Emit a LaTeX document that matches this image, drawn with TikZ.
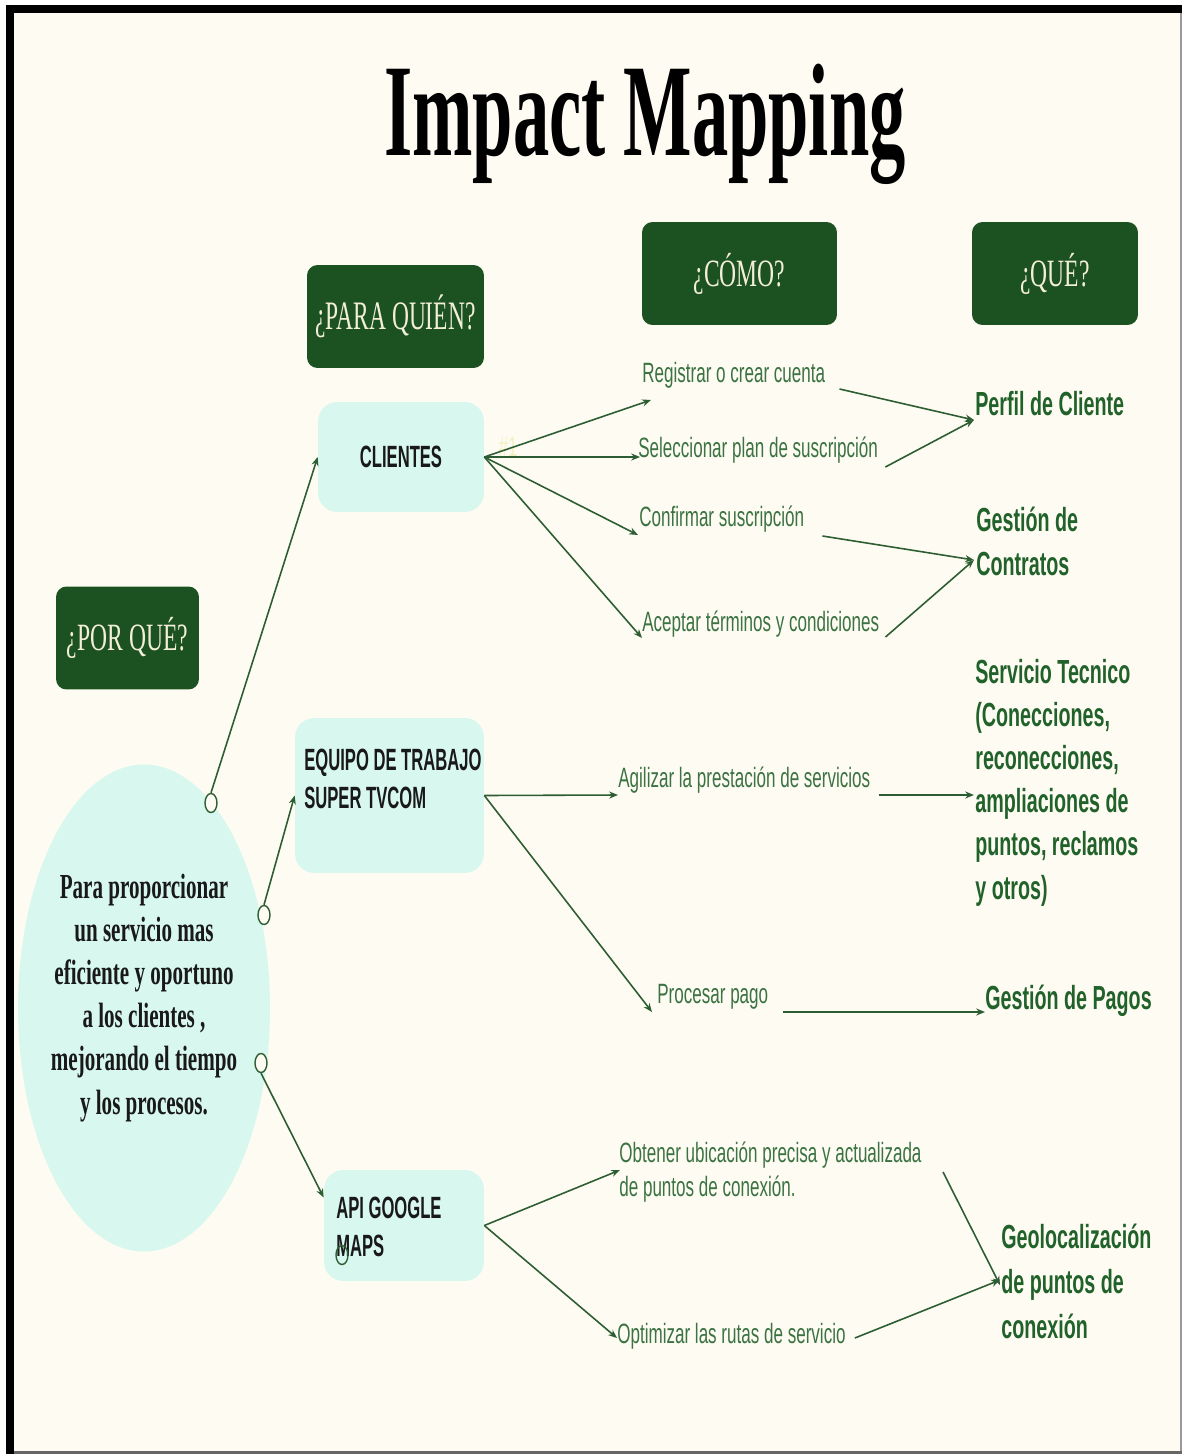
\documentclass[tikz,border=0pt]{standalone}
\usepackage{fontspec}
\usetikzlibrary{shapes.geometric,arrows.meta,calc}
\newfontfamily\titlefont[FakeStretch=0.55]{Liberation Serif}
\newfontfamily\hdfont[FakeStretch=0.61]{Liberation Serif}
\newfontfamily\hdnarrow[FakeStretch=0.58]{Liberation Serif}
\newfontfamily\goalfont[FakeStretch=0.6]{Liberation Serif}
\newfontfamily\boxfont[FakeStretch=0.54]{Liberation Sans}
\newfontfamily\actfont[FakeStretch=0.61]{Liberation Sans}
\newfontfamily\outfont[FakeStretch=0.59]{Liberation Sans}
\definecolor{crema}{HTML}{FEFBF2}
\definecolor{verdeosc}{HTML}{1C5122}
\definecolor{celeste}{HTML}{D8F8EF}
\definecolor{verdetxt}{HTML}{21612A}
\definecolor{verdeact}{HTML}{3B7342}
\definecolor{trazo}{HTML}{2D5E33}
\definecolor{crematxt}{HTML}{F3EED8}
\tikzset{
  titulo/.style  = {inner sep=0, text=black, font=\titlefont\bfseries\fontsize{75}{80}\selectfont},
  header/.style  = {rectangle, rounded corners=6pt, fill=verdeosc, text=crematxt, minimum height=2.06cm, inner sep=0, font=\hdfont\fontsize{22}{26}\selectfont},
  caja/.style    = {rectangle, rounded corners=11pt, fill=celeste, inner sep=0},
  cajatxt/.style = {align=left, inner sep=0, text=black!90, font=\boxfont\bfseries\fontsize{17.5}{21.5}\selectfont},
  meta/.style    = {align=center, inner sep=0, text=black!90, font=\goalfont\bfseries\fontsize{20}{24.5}\selectfont},
  accion/.style  = {align=left, inner sep=0, text=verdeact, font=\actfont\fontsize{15.9}{18.8}\selectfont},
  impacto/.style = {align=left, inner sep=0, text=verdetxt, font=\outfont\bfseries\fontsize{19}{24.5}\selectfont},
  nodo/.style    = {ellipse, draw=trazo, thick, fill=crema, minimum width=0.24cm, minimum height=0.38cm, inner sep=0},
  flecha/.style  = {draw=trazo, line width=0.9pt, -{Stealth[length=5pt,width=4pt]}}
}
\begin{document}
\begin{tikzpicture}[x=0.02cm, y=-0.02cm]

  \useasboundingbox (0,0) rectangle (1182,1454);
  % fondo y marco
  \fill[white] (0,0) rectangle (1182,1454);
  \fill[crema] (14,13) rectangle (1181,1452);
  \fill[black] (6,5) rectangle (1182,13);
  \fill[black] (6,5) rectangle (14,1454);
  \fill[black!60] (14,1451) rectangle (1182,1454);
  \fill[black!40] (1180,13) rectangle (1182,1451);

  \node[titulo, anchor=base] (tit) at (645,155) {Impact Mapping};

  % encabezados
  \node[header, minimum width=3.54cm] (quien)  at (395.5,316.5) {\hdnarrow\fontsize{23}{26}\selectfont ¿PARA QUIÉN?};
  \node[header, minimum width=3.9cm]  (como)   at (739.5,273.5) {¿CÓMO?};
  \node[header, minimum width=3.32cm] (que)    at (1055,273.5)  {¿QUÉ?};
  \node[header, minimum width=2.86cm] (porque) at (127.5,638)   {¿POR QUÉ?};

  % objetivo
  \node[ellipse, fill=celeste, minimum width=5.04cm, minimum height=9.74cm, inner sep=0] (obj) at (144,1008) {};
  \node[meta] (objtxt) at (144,998) {Para proporcionar\\un servicio mas\\eficiente y oportuno\\a los clientes ,\\mejorando el tiempo\\y los procesos.};

  % actores
  \node[caja, cajatxt, align=center, minimum width=3.32cm, minimum height=2.2cm] (cli) at (401,457) {CLIENTES};
  \node[caja, minimum width=3.78cm, minimum height=3.1cm] (eq) at (389.5,795.5) {};
  \node[cajatxt, anchor=north west] (eqtxt) at (304,749) {EQUIPO DE TRABAJO\\SUPER TVCOM};
  \node[caja, minimum width=3.2cm, minimum height=2.22cm] (api) at (404,1225.5) {};
  \node[cajatxt, anchor=north west] (apitxt) at (336,1197) {API GOOGLE\\MAPS};
  \node[accion, text=crema!80!black!60!yellow, opacity=0.35] (marca) at (508,447) {\#1};

  \node[nodo] (c1) at (211,803) {};
  \node[nodo] (c2) at (264,915) {};
  \node[nodo] (c3) at (261,1063) {};
  \node[nodo, fill=none] (c4) at (342,1255) {};

  \draw[flecha] (c1.north) -- (cli.west);
  \draw[flecha] (c2.north) -- (eq.west);
  \draw[flecha] (c3.south) -- ([yshift=0.56cm]api.west);

  % como (base = linea final)
  \node[accion, anchor=base west] (reg)  at (642,382)  {Registrar o crear cuenta};
  \node[accion, anchor=base west] (sel)  at (638,457)  {Seleccionar plan de suscripción};
  \node[accion, anchor=base west] (conf) at (639,526)  {Confirmar suscripción};
  \node[accion, anchor=base west] (acep) at (642,631)  {Aceptar términos y condiciones};
  \node[accion, anchor=base west] (agil) at (618,787)  {Agilizar la prestación de servicios};
  \node[accion, anchor=base west] (proc) at (657,1003) {Procesar pago};
  \node[accion, anchor=base west] (obt)  at (619,1196) {Obtener ubicación precisa y actualizada\\de puntos de conexión.};
  \node[accion, anchor=base west] (opt)  at (617,1343) {Optimizar las rutas de servicio};

  % que
  \node[impacto, anchor=base west] (perfil) at (975,415)  {Perfil de Cliente};
  \node[impacto, anchor=base west] (contr)  at (976,575)  {Gestión de\\Contratos};
  \node[impacto, anchor=base west] (serv)   at (975,899)  {Servicio Tecnico\\(Conecciones,\\reconecciones,\\ampliaciones de\\puntos, reclamos\\y otros)};
  \node[impacto, anchor=base west] (pagos)  at (985,1009) {Gestión de Pagos};
  \node[impacto, anchor=base west, font=\outfont\bfseries\fontsize{19}{25.6}\selectfont] (geo) at (1001,1338) {Geolocalización\\de puntos de\\conexión};

  \coordinate (inContr) at (974,560);
  \coordinate (inServ)  at (974,795);
  \coordinate (inGeo1)  at (1000,1285);
  \coordinate (inGeo2)  at (1000,1280);
  \coordinate (outObt)  at (943,1172);

  \draw[flecha] (cli.east) -- ($(reg.base west)+(9,18)$);
  \draw[flecha] (cli.east) -- ($(sel.base west)+(2,0)$);
  \draw[flecha] (cli.east) -- ($(conf.base west)+(-1,9)$);
  \draw[flecha] (cli.east) -- ($(acep.base west)+(0,7)$);
  \draw[flecha] ($(reg.base east)+(14,7)$) -- ($(perfil.base west)+(-1,5)$);
  \draw[flecha] ($(sel.base east)+(7,10)$) -- ($(perfil.base west)+(-1,5)$);
  \draw[flecha] ($(conf.base east)+(18,10)$) -- (inContr);
  \draw[flecha] ($(acep.base east)+(6,6)$) -- (inContr);

  \draw[flecha] (eq.east) -- ($(agil.base west)+(0,8)$);
  \draw[flecha] ($(agil.base east)+(8,8)$) -- (inServ);
  \draw[flecha] (eq.east) -- ($(proc.base west)+(-5,9)$);
  \draw[flecha] ($(proc.base east)+(14,9)$) -- ($(pagos.base west)+(0,3)$);

  \draw[flecha] (api.east) -- ($(obt.base west)+(1,-26)$);
  \draw[flecha] (api.east) -- ($(opt.base west)+(0,-5)$);
  \draw[flecha] (outObt) -- (inGeo1);
  \draw[flecha] ($(opt.base east)+(9,-5)$) -- (inGeo2);

\end{tikzpicture}
\end{document}
